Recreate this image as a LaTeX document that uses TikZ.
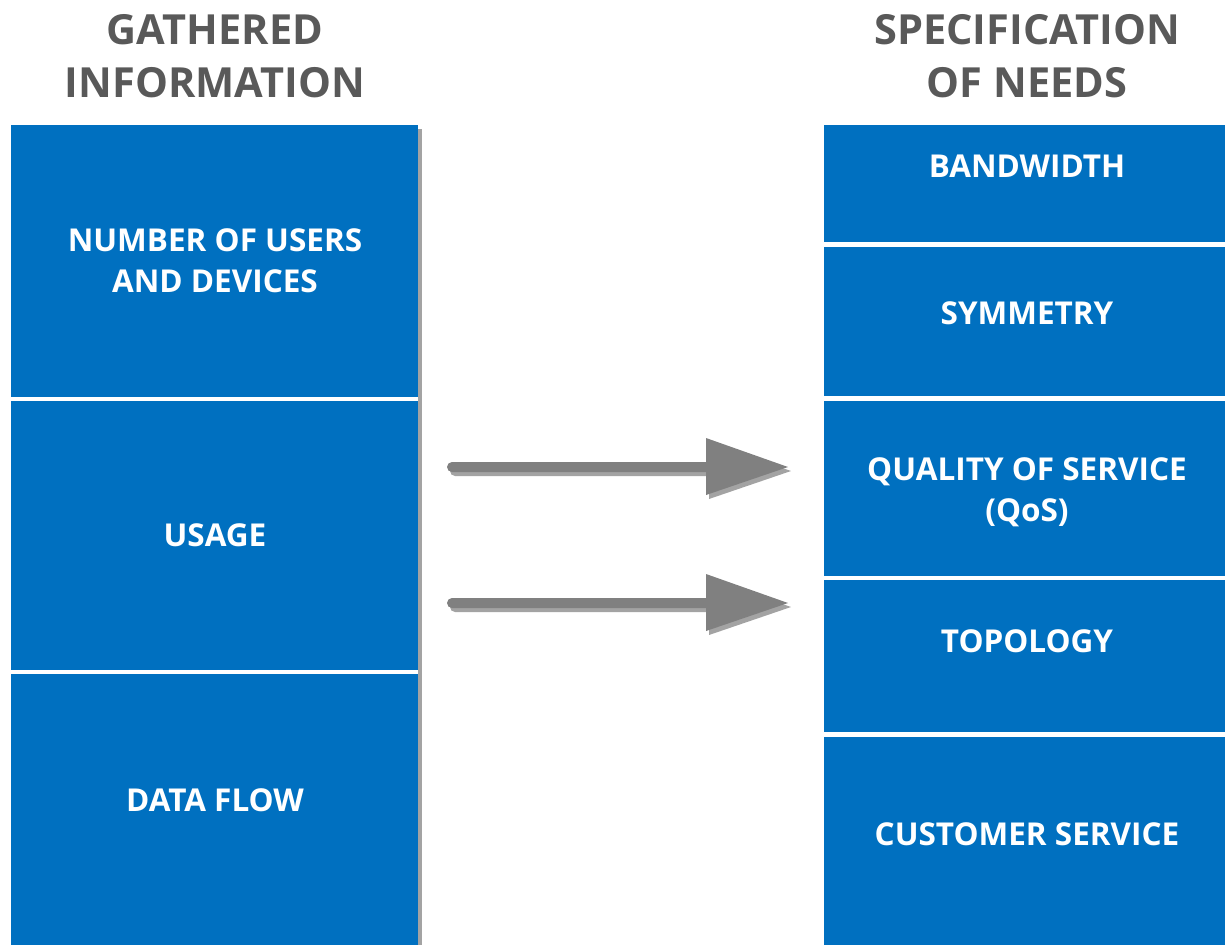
\documentclass[tikz,border=0pt]{standalone}
\usepackage{fontspec}
\setmainfont{Open Sans}[BoldFont={* Bold}]
\usetikzlibrary{calc}
\definecolor{boxblue}{HTML}{0070C0}
\definecolor{headgray}{HTML}{595959}
\definecolor{arrowgray}{HTML}{808080}
\definecolor{shadegray}{HTML}{A3A3A3}
\tikzset{
  heading/.style={text=headgray, font=\bfseries\fontsize{41.5}{53}\selectfont, align=center, inner sep=0pt},
  label/.style={text=white, font=\bfseries\fontsize{31.5}{41}\selectfont, align=center, inner sep=0pt},
}
% block arrow with a rounded tail, drawn from its tail point
\newcommand{\flowarrow}[2]{%
  \fill[#1] ($(#2)+(0,-5)$) -- ($(#2)+(254,-5)$) -- ($(#2)+(254,-29)$) -- ($(#2)+(336,0)$)
    -- ($(#2)+(254,28)$) -- ($(#2)+(254,5)$) -- ($(#2)+(0,5)$) arc[start angle=90, end angle=270, radius=5] -- cycle;
}
\begin{document}
\begin{tikzpicture}[x=1pt, y=-1pt]
\useasboundingbox (0,0) rectangle (1225,945);

% headings
\node[heading] (hl) at (215,56) {GATHERED\\INFORMATION};
\node[heading] (hr) at (1027,56) {SPECIFICATION\\OF NEEDS};

% left column shadow and panels
\fill[shadegray] (418,129) rectangle (422,945);
\fill[boxblue] (11,125) rectangle (418,397);
\fill[boxblue] (11,401) rectangle (418,670);
\fill[boxblue] (11,674) rectangle (418,945);
\node[label] (t1) at (215,261) {NUMBER OF USERS\\AND DEVICES};
\node[label] (t2) at (215,535) {USAGE};
\node[label] (t3) at (215,800) {DATA FLOW};

% right column panels
\fill[boxblue] (824,125) rectangle (1225,242);
\fill[boxblue] (824,247) rectangle (1225,396);
\fill[boxblue] (824,401) rectangle (1225,576);
\fill[boxblue] (824,580) rectangle (1225,732);
\fill[boxblue] (824,737) rectangle (1225,945);
\node[label] (r1) at (1027,166) {BANDWIDTH};
\node[label] (r2) at (1027,313) {SYMMETRY};
\node[label] (r3) at (1027,492) {QUALITY OF SERVICE\\(QoS)};
\node[label] (r4) at (1027,641) {TOPOLOGY};
\node[label] (r5) at (1027,834) {CUSTOMER SERVICE};

% arrows with drop shadows
\coordinate (a1) at (452,467);
\coordinate (a1s) at (455,471);
\coordinate (a2) at (452,603);
\coordinate (a2s) at (455,607);
\flowarrow{shadegray}{a1s}
\flowarrow{arrowgray}{a1}
\flowarrow{shadegray}{a2s}
\flowarrow{arrowgray}{a2}
\end{tikzpicture}
\end{document}
